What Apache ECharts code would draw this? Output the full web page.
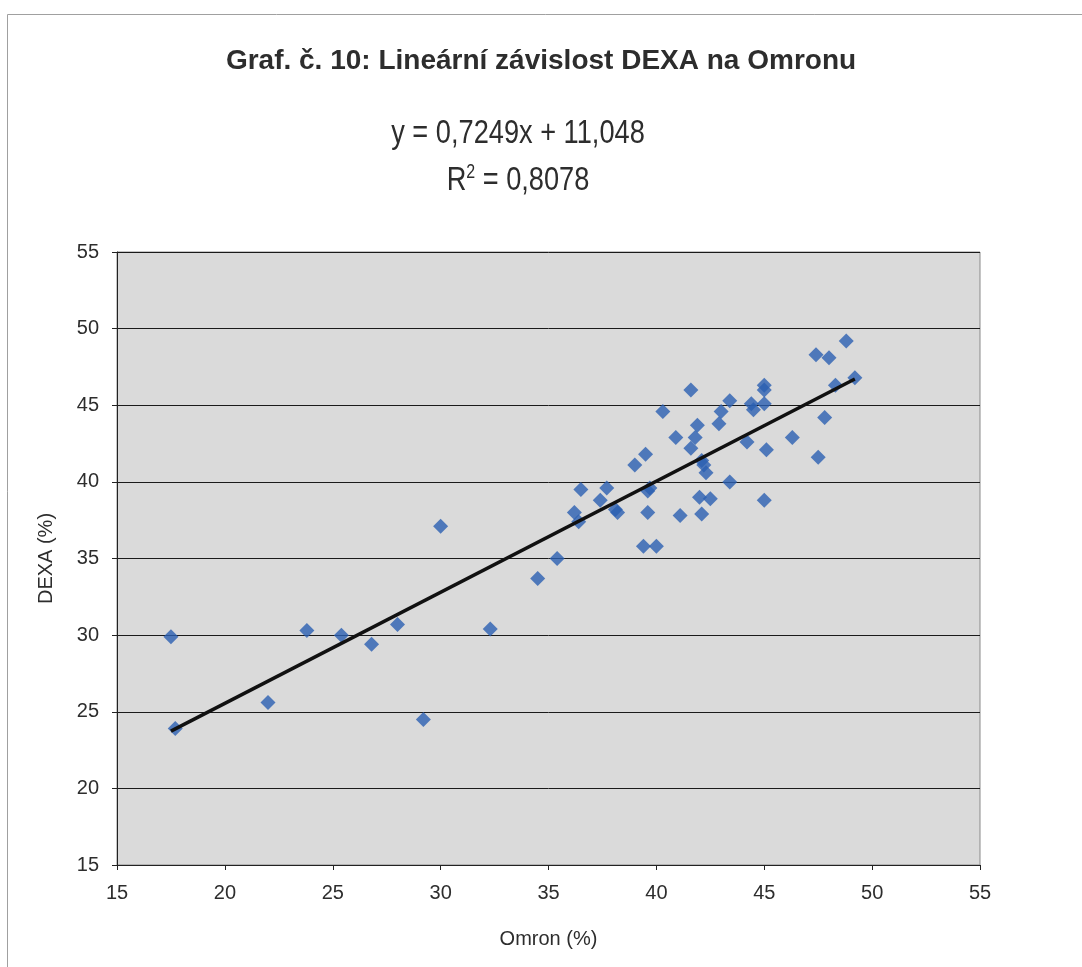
<!DOCTYPE html>
<html>
<head>
<meta charset="utf-8">
<script src="https://cdn.jsdelivr.net/npm/echarts@6/dist/echarts.min.js"></script>
<style>html,body{margin:0;padding:0;background:#fff;}#c{width:1082px;height:967px;}</style>
</head>
<body>
<div id="c"></div>
<script>
const omron = [17.5, 17.7, 22.0, 23.8, 25.4, 26.8, 28.0, 29.2, 30.0, 32.3, 34.5, 35.4,
  36.2, 36.4, 36.5, 37.4, 37.7, 38.1, 38.2, 39.0, 39.5, 39.4, 40.0, 39.6, 39.6, 39.7,
  40.3, 40.9, 41.1, 41.6, 41.6, 41.8, 41.9, 42.0, 42.1, 42.1, 42.2, 42.3, 42.5, 42.9,
  43.0, 43.4, 43.4, 44.2, 44.4, 44.5, 45.0, 45.0, 45.0, 45.1, 45.0, 46.3, 47.4, 48.0,
  47.5, 47.8, 48.3, 48.8, 49.2];
const dexa = [29.9, 23.9, 25.6, 30.3, 30.0, 29.4, 30.7, 24.5, 37.1, 30.4, 33.7, 35.0,
  38.0, 37.4, 39.5, 38.8, 39.6, 38.2, 38.0, 41.1, 41.8, 35.8, 35.8, 38.0, 39.4, 39.6,
  44.6, 42.9, 37.8, 46.0, 42.2, 42.9, 43.7, 39.0, 37.9, 41.4, 41.1, 40.6, 38.9, 43.8,
  44.6, 40.0, 45.3, 42.6, 45.1, 44.7, 45.1, 46.3, 46.0, 42.1, 38.8, 42.9, 48.3, 48.1,
  41.6, 44.2, 46.3, 49.2, 46.8];
const slope = 0.7249, intercept = 11.048, r2 = '0,8078';
const xTicks = [15, 20, 25, 30, 35, 40, 45, 50, 55];
const yTicks = [15, 20, 25, 30, 35, 40, 45, 50, 55];

const points = omron.map((x, i) => [x, dexa[i]]);
const xMin = Math.min(...omron), xMax = Math.max(...omron);
const trend = [[xMin, slope * xMin + intercept], [xMax, slope * xMax + intercept]];

const font = '"Liberation Sans", Arial, sans-serif';
const txt = '#2d2d2d';
const chart = echarts.init(document.getElementById('c'));
chart.setOption({
  animation: false,
  backgroundColor: '#ffffff',
  textStyle: { fontFamily: font },
  graphic: [
    { type: 'rect', left: 5, top: 12, shape: { width: 1085, height: 960 },
      style: { fill: 'none', stroke: '#a0a0a0', lineWidth: 1 }, silent: true },
    { type: 'text', x: 541, y: 61, silent: true,
      style: { text: 'Graf. č. 10: Lineární závislost DEXA na Omronu', fill: txt,
        font: 'bold 28px ' + font, align: 'center', verticalAlign: 'middle' } },
    { type: 'text', x: 518, y: 134, scaleX: 0.8, silent: true,
      style: { text: 'y = 0,7249x + 11,048', fill: txt, font: '34px ' + font,
        align: 'center', verticalAlign: 'middle' } },
    { type: 'text', x: 518, y: 181, scaleX: 0.8, silent: true,
      style: { text: '{r|R}{s|2}{r| = ' + r2 + '}', fill: txt, font: '34px ' + font,
        align: 'center', verticalAlign: 'middle',
        rich: { r: { fontSize: 34, fontFamily: font, fill: txt, height: 38 },
                s: { fontSize: 20, fontFamily: font, fill: txt, verticalAlign: 'top', height: 38, padding: [0, 0, 18, 0] } } } }
  ],
  grid: { left: 117, right: 102, top: 252, bottom: 102, show: true,
    backgroundColor: '#dadada', borderColor: '#8a8a8a', borderWidth: 1 },
  xAxis: {
    type: 'value', min: 15, max: 55, interval: 5,
    name: 'Omron (%)', nameLocation: 'middle', nameGap: 64,
    nameTextStyle: { fontFamily: font, fontSize: 20, color: txt },
    axisLine: { show: true, onZero: false, lineStyle: { color: '#222' } },
    axisTick: { show: true, length: 5, lineStyle: { color: '#222' } },
    axisLabel: { fontFamily: font, fontSize: 20, color: txt, margin: 18,
      formatter: v => xTicks.includes(v) ? String(v) : '' },
    splitLine: { show: false }
  },
  yAxis: {
    type: 'value', min: 15, max: 55, interval: 5,
    name: 'DEXA (%)', nameLocation: 'middle', nameGap: 61, nameRotate: 90,
    nameTextStyle: { fontFamily: font, fontSize: 20, color: txt },
    axisLine: { show: true, onZero: false, lineStyle: { color: '#222' } },
    axisTick: { show: true, length: 5, lineStyle: { color: '#222' } },
    axisLabel: { fontFamily: font, fontSize: 20, color: txt, margin: 18,
      formatter: v => yTicks.includes(v) ? String(v) : '' },
    splitLine: { show: true, lineStyle: { color: '#1a1a1a', width: 1 } }
  },
  series: [
    { type: 'scatter', data: points, symbol: 'diamond', symbolSize: 15,
      itemStyle: { color: '#2a5fb2' }, z: 3 },
    { type: 'line', data: trend, showSymbol: false, symbol: 'none',
      lineStyle: { color: '#111', width: 3.5 }, z: 4 }
  ]
});
</script>
</body>
</html>
